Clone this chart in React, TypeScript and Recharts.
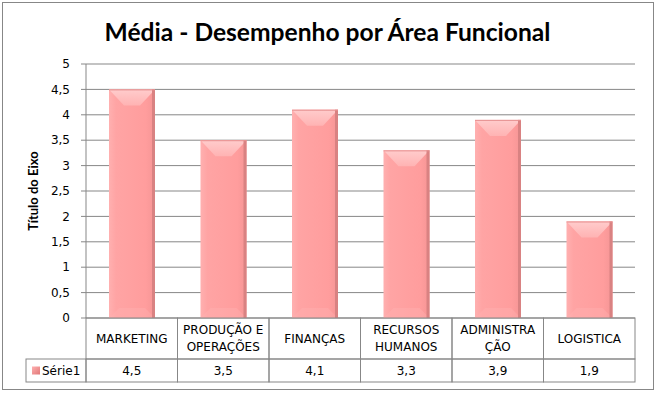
import React from "react";
import { BarChart, Bar, XAxis, YAxis, CartesianGrid, Label } from "recharts";

// categories as stored, and how Excel wraps them in the data table
const categories = [
  "MARKETING",
  "PRODUÇÃO E OPERAÇÕES",
  "FINANÇAS",
  "RECURSOS HUMANOS",
  "ADMINISTRAÇÃO",
  "LOGISTICA",
];
const categoryLines = [
  ["MARKETING"],
  ["PRODUÇÃO E", "OPERAÇÕES"],
  ["FINANÇAS"],
  ["RECURSOS", "HUMANOS"],
  ["ADMINISTRA", "ÇÃO"],
  ["LOGISTICA"],
];
const serie1 = [4.5, 3.5, 4.1, 3.3, 3.9, 1.9];
const yTicks = [0, 0.5, 1, 1.5, 2, 2.5, 3, 3.5, 4, 4.5, 5];

const seriesName = "Série1";
const title = "Média - Desempenho por Área Funcional";
const yTitle = "Título do Eixo";

const data = categories.map((name, i) => ({ name, value: serie1[i] }));

const LINE = "#878787";
const FONT = "'DejaVu Sans', Verdana, sans-serif";
const ROW1 = 41;
const ROW2 = 23;
const LEGEND_W = 60;

const fmt = (v: number) => String(v).replace(".", ",");

const TableTick = (props: any) => {
  const { x, y, payload, width, visibleTicksCount } = props;
  const i = categories.indexOf(payload.value);
  const bw = (width || 549) / (visibleTicksCount || categories.length);
  const left = x - bw / 2;
  const lines = categoryLines[i] || [payload.value];
  const mid = y + ROW1 / 2;
  return (
    <g>
      <rect x={left} y={y} width={bw} height={ROW1} fill="none" stroke={LINE} />
      <rect x={left} y={y + ROW1} width={bw} height={ROW2} fill="none" stroke={LINE} />
      <text
        fontFamily={FONT}
        fontSize={12}
        fill="#000"
        textAnchor="middle"
        dominantBaseline="central"
      >
        {lines.map((l: string, k: number) => (
          <tspan key={k} x={x} y={mid + (k - (lines.length - 1) / 2) * 17}>
            {l}
          </tspan>
        ))}
      </text>
      <text
        x={x}
        y={y + ROW1 + ROW2 / 2}
        fontFamily={FONT}
        fontSize={12}
        fill="#000"
        textAnchor="middle"
        dominantBaseline="central"
      >
        {fmt(serie1[i])}
      </text>
      {i === 0 && (
        <g>
          <rect
            x={left - LEGEND_W}
            y={y + ROW1}
            width={LEGEND_W}
            height={ROW2}
            fill="none"
            stroke={LINE}
          />
          <rect
            x={left - LEGEND_W + 6}
            y={y + ROW1 + ROW2 / 2 - 4}
            width={8}
            height={8}
            fill="url(#legendKey)"
          />
          <text
            x={left - LEGEND_W + 16}
            y={y + ROW1 + ROW2 / 2}
            fontFamily={FONT}
            fontSize={12}
            fill="#000"
            dominantBaseline="central"
          >
            {seriesName}
          </text>
        </g>
      )}
    </g>
  );
};

const BevelBar = (props: any) => {
  const { x, y, width, height } = props;
  if (!height || height <= 0) return null;
  const bev = Math.min(16, height / 2);
  const bot = Math.min(10, height / 4);
  return (
    <g>
      <rect x={x} y={y} width={width} height={height} fill="url(#barBody)" />
      <polygon
        points={`${x},${y} ${x + width},${y} ${x + width - 15},${y + bev} ${x + 15},${y + bev}`}
        fill="url(#barTop)"
      />
      <polygon
        points={`${x},${y + height} ${x + width},${y + height} ${x + width - 10},${y + height - bot} ${x + 10},${y + height - bot}`}
        fill="#ffb4b4"
        opacity={0.35}
      />
      <rect x={x + width - 3} y={y} width={3} height={height} fill="#d98282" />
      <rect x={x} y={y} width={width} height={1} fill="#e79090" />
    </g>
  );
};

export default function App() {
  return (
    <div
      style={{
        position: "absolute",
        left: 0,
        top: 0,
        width: 665,
        height: 396,
        background: "#fff",
      }}
    >
      <BarChart
        width={665}
        height={396}
        data={data}
        margin={{ top: 64, right: 30, bottom: 14, left: 26 }}
      >
        <defs>
          <linearGradient id="barBody" x1="0" y1="0" x2="1" y2="0">
            <stop offset="0%" stopColor="#ffb0b0" />
            <stop offset="15%" stopColor="#ffa4a4" />
            <stop offset="80%" stopColor="#ff9d9d" />
            <stop offset="100%" stopColor="#f59595" />
          </linearGradient>
          <linearGradient id="barTop" x1="0" y1="0" x2="0" y2="1">
            <stop offset="0%" stopColor="#ffcccc" />
            <stop offset="100%" stopColor="#ffb3b3" />
          </linearGradient>
          <linearGradient id="legendKey" x1="0" y1="0" x2="1" y2="1">
            <stop offset="0%" stopColor="#ffb0b0" />
            <stop offset="100%" stopColor="#e07878" />
          </linearGradient>
        </defs>
        <CartesianGrid horizontal vertical={false} stroke={LINE} />
        <YAxis
          width={60}
          domain={[0, 5]}
          ticks={yTicks}
          interval={0}
          tickFormatter={fmt}
          axisLine={{ stroke: LINE }}
          tickLine={{ stroke: LINE }}
          tickSize={5}
          tickMargin={11}
          tick={{ fontFamily: FONT, fontSize: 12, fill: "#000" }}
        >
          <Label
            content={({ viewBox }: any) => {
              const cx = (viewBox?.x ?? 26) + 7;
              const cy = (viewBox?.y ?? 64) + (viewBox?.height ?? 254) / 2;
              return (
                <text
                  x={cx}
                  y={cy}
                  transform={`rotate(-90 ${cx} ${cy})`}
                  textAnchor="middle"
                  dominantBaseline="central"
                  fontFamily="Lato, 'Open Sans', sans-serif"
                  fontWeight={700}
                  fontSize={13}
                  fill="#000"
                >
                  {yTitle}
                </text>
              );
            }}
          />
        </YAxis>
        <XAxis
          dataKey="name"
          height={64}
          interval={0}
          axisLine={false}
          tickLine={false}
          tickSize={0}
          tickMargin={0}
          tick={<TableTick />}
        />
        <Bar
          dataKey="value"
          barSize={46}
          shape={<BevelBar />}
          isAnimationActive={false}
        />
      </BarChart>
      <div
        style={{
          position: "absolute",
          left: 2,
          top: 2,
          width: 652,
          height: 388,
          border: `1px solid ${LINE}`,
          boxSizing: "border-box",
          pointerEvents: "none",
        }}
      />
      <div
        style={{
          position: "absolute",
          left: 2,
          width: 651,
          top: 15,
          textAlign: "center",
          fontFamily: "Lato, 'Open Sans', sans-serif",
          fontWeight: 700,
          fontSize: 24.6,
          lineHeight: "34px",
          color: "#000",
        }}
      >
        {title}
      </div>
    </div>
  );
}
